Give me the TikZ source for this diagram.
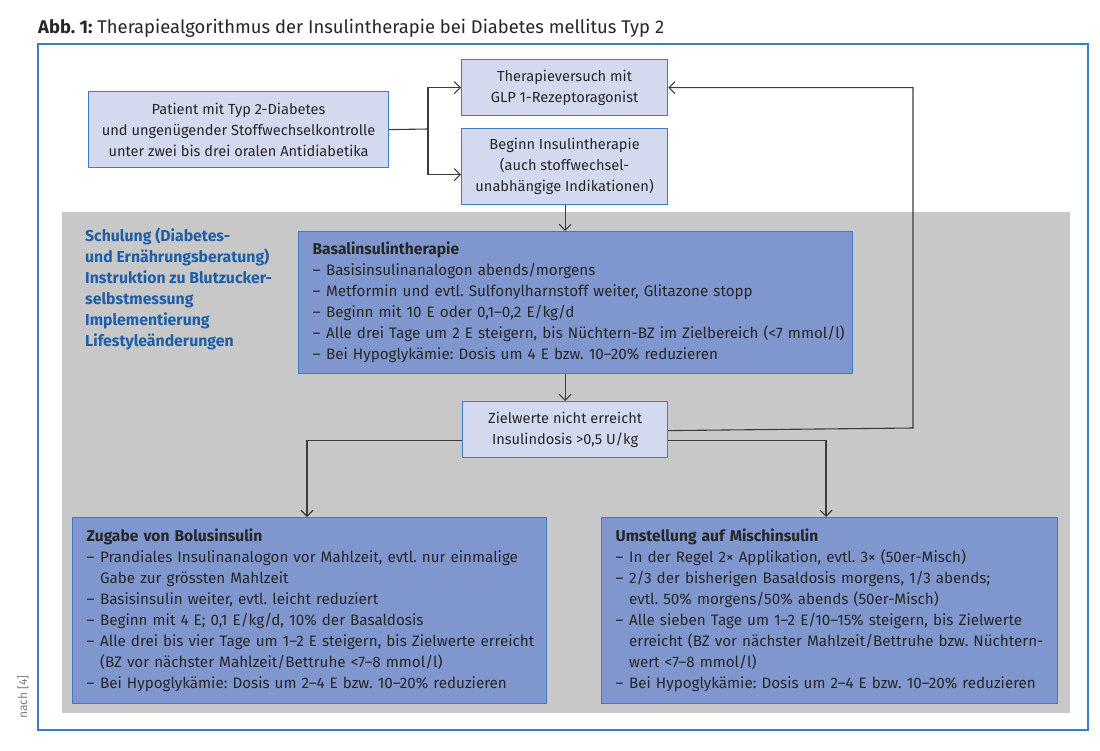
\documentclass[tikz,border=0pt]{standalone}
\usepackage{fontspec}
\setmainfont{Fira Sans}
\usetikzlibrary{arrows.meta}
\definecolor{frameblue}{HTML}{3D7CC9}
\definecolor{lightfill}{HTML}{D3D9EF}
\definecolor{darkfill}{HTML}{7F97CE}
\definecolor{graybg}{HTML}{C8C8C8}
\definecolor{textblue}{HTML}{1E5FA8}
\definecolor{linegray}{HTML}{3C3C3C}
\definecolor{txt}{HTML}{262626}
\newcommand{\li}[1]{\mbox{\makebox[13.5pt][l]{–}#1}}
\newcommand{\ci}[1]{\mbox{\hspace*{13.5pt}#1}}
\newcommand{\hd}[1]{{\fontsize{15.6}{21}\selectfont\bfseries #1}}
\frenchspacing
\begin{document}
\begin{tikzpicture}[x=1pt,y=-1pt,
  font=\fontsize{14.6}{21}\selectfont,
  lbox/.style={draw=frameblue, line width=1.2pt, fill=lightfill, align=center, inner sep=0pt, text=txt, anchor=north west},
  dbox/.style={draw=frameblue, line width=1.2pt, fill=darkfill, align=left, inner xsep=14pt, inner ysep=0pt, text=txt, anchor=north west, font=\fontsize{15.2}{21}\selectfont},
  conn/.style={draw=linegray, line width=1.1pt},
  arr/.style={conn, -{Straight Barb[length=6pt,width=12pt]}}]
\useasboundingbox (0,0) rectangle (1100,750);
% title
\node[anchor=base west, inner sep=0pt, text=txt, font=\fontsize{18.4}{20}\selectfont\frenchspacing] (title) at (38,33) {\textbf{Abb. 1:} Therapiealgorithmus der Insulintherapie bei Diabetes mellitus Typ 2};
% frame and background
\draw[frameblue, line width=1.2pt] (38,44) rectangle (1088,730);
\fill[graybg] (62,212) rectangle (1070,713);
\node[rotate=90, text=gray, inner sep=0pt, font=\fontsize{12}{14}\selectfont] (src) at (23,697) {nach [4]};
% top boxes
\node[lbox, minimum width=300pt, minimum height=76pt] (pat) at (88,91)
  {Patient mit Typ 2-Diabetes\\und ungenügender Stoffwechselkontrolle\\unter zwei bis drei oralen Antidiabetika};
\node[lbox, minimum width=206pt, minimum height=56pt] (glp) at (461,59)
  {Therapieversuch mit\\GLP 1-Rezeptoragonist};
\node[lbox, minimum width=206pt, minimum height=76pt] (beg) at (461,128)
  {Beginn Insulintherapie\\(auch stoffwechsel-\\unabhängige Indikationen)};
% left blue text
\node[anchor=north west, align=left, inner sep=0pt, text=textblue, font=\bfseries\fontsize{15.8}{21}\selectfont] (schul) at (85,228)
  {Schulung (Diabetes-\\und Ernährungsberatung)\\Instruktion zu Blutzucker-\\selbstmessung\\Implementierung\\Lifestyleänderungen};
% basal box
\node[dbox, text width=526pt, minimum height=142pt] (bas) at (298,231)
  {\hd{Basalinsulintherapie}\\
   \li{Basisinsulinanalogon abends/morgens}\\
   \li{Metformin und evtl. Sulfonylharnstoff weiter, Glitazone stopp}\\
   \li{Beginn mit 10 E oder 0,1–0,2 E/kg/d}\\
   \li{Alle drei Tage um 2 E steigern, bis Nüchtern-BZ im Zielbereich (<7 mmol/l)}\\
   \li{Bei Hypoglykämie: Dosis um 4 E bzw. 10–20\% reduzieren}};
% target box
\node[lbox, minimum width=205pt, minimum height=56pt] (ziel) at (462,401)
  {Zielwerte nicht erreicht\\Insulindosis >0,5 U/kg};
% bottom boxes
\node[dbox, text width=446pt, minimum height=186pt] (bol) at (72,517)
  {\hd{Zugabe von Bolusinsulin}\\
   \li{Prandiales Insulinanalogon vor Mahlzeit, evtl. nur einmalige}\\
   \ci{Gabe zur grössten Mahlzeit}\\
   \li{Basisinsulin weiter, evtl. leicht reduziert}\\
   \li{Beginn mit 4 E; 0,1 E/kg/d, 10\% der Basaldosis}\\
   \li{Alle drei bis vier Tage um 1–2 E steigern, bis Zielwerte erreicht}\\
   \ci{(BZ vor nächster Mahlzeit/Bettruhe <7–8 mmol/l)}\\
   \li{Bei Hypoglykämie: Dosis um 2–4 E bzw. 10–20\% reduzieren}};
\node[dbox, text width=428pt, minimum height=186pt] (mix) at (601,517)
  {\hd{Umstellung auf Mischinsulin}\\
   \li{In der Regel 2× Applikation, evtl. 3× (50er-Misch)}\\
   \li{2/3 der bisherigen Basaldosis morgens, 1/3 abends;}\\
   \ci{evtl. 50\% morgens/50\% abends (50er-Misch)}\\
   \li{Alle sieben Tage um 1–2 E/10–15\% steigern, bis Zielwerte}\\
   \ci{erreicht (BZ vor nächster Mahlzeit/Bettruhe bzw. Nüchtern-}\\
   \ci{wert <7–8 mmol/l)}\\
   \li{Bei Hypoglykämie: Dosis um 2–4 E bzw. 10–20\% reduzieren}};
% connectors
\coordinate (split) at (428,129);
\draw[conn] (pat.east) -- (split);
\draw[arr] (split) |- (glp.west);
\draw[arr] (split) |- ([yshift=-8pt]beg.west);
\draw[arr] (beg.south -| ziel.north) -- (ziel.north |- bas.north);
\draw[arr] (ziel.north |- bas.south) -- (ziel.north);
\draw[arr] ([yshift=-1pt]ziel.east) -- (913,428) |- (glp.east);
\draw[arr] ([yshift=-11pt]ziel.west) -| (307,0 |- bol.north);
\draw[arr] ([yshift=-11pt]ziel.east) -| (826,0 |- mix.north);
\end{tikzpicture}
\end{document}
